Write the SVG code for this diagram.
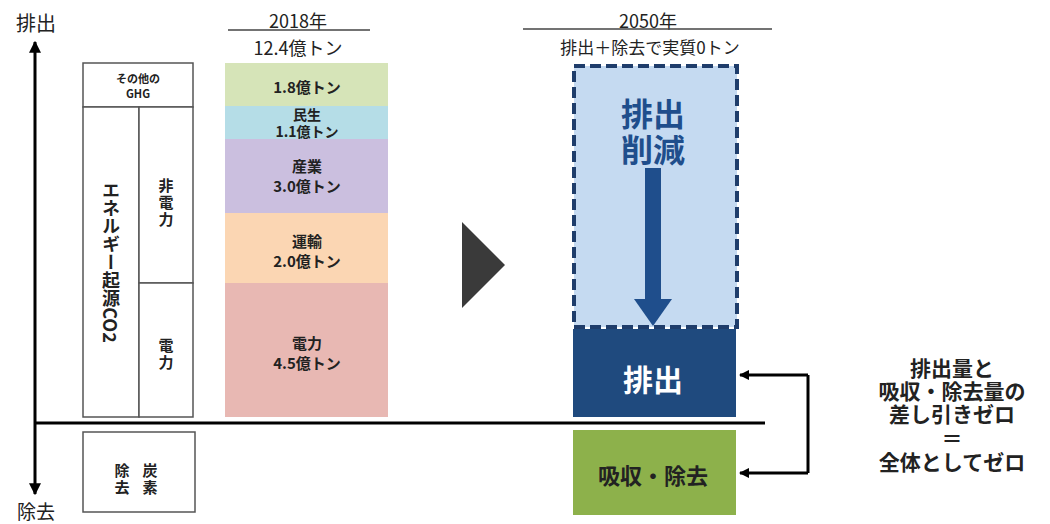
<svg xmlns="http://www.w3.org/2000/svg" width="1050" height="524" viewBox="0 0 1050 524">
<defs>
<style>
text{font-family:"Noto Sans CJK JP","Noto Sans",sans-serif;fill:#222;}
.b{font-weight:bold;}
.c{text-anchor:middle;dominant-baseline:central;}
.box{fill:#fff;stroke:#555;stroke-width:1.5;}
.ax{stroke:#000;stroke-width:3;fill:none;}
.con{stroke:#000;stroke-width:3;fill:none;}
</style>
<marker id="ah" viewBox="0 0 10 10" refX="9" refY="5" markerWidth="4" markerHeight="4" orient="auto-start-reverse">
<path d="M0,0 L10,5 L0,10 z" fill="#000"/>
</marker>
<marker id="ah2" viewBox="0 0 10 10" refX="9" refY="5" markerWidth="3.5" markerHeight="3.5" orient="auto">
<path d="M0,0 L10,5 L0,10 z" fill="#000"/>
</marker>
</defs>
<rect width="1050" height="524" fill="#fff"/>

<g id="axes">
<line class="ax" x1="35" y1="494" x2="35" y2="42" marker-end="url(#ah)" marker-start="url(#ah)"/>
<line class="ax" x1="35" y1="423" x2="765" y2="423"/>
<text x="36" y="22" class="c" font-size="20">排出</text>
<text x="36" y="510" class="c" font-size="19">除去</text>
</g>

<g id="legend-left">
<rect class="box" x="83" y="63" width="110" height="44"/>
<text x="138" y="78" class="c b" font-size="11">その他の</text>
<text x="138" y="93" class="c b" font-size="11">GHG</text>
<rect class="box" x="83" y="107" width="56" height="310"/>
<rect class="box" x="139" y="107" width="54" height="176"/>
<rect class="box" x="139" y="283" width="54" height="134"/>
<text x="111" y="262" class="b" font-size="18" writing-mode="vertical-rl" text-anchor="middle">エネルギー起源CO2</text>
<text x="166" y="184" class="c b" font-size="15">非</text>
<text x="166" y="201" class="c b" font-size="15">電</text>
<text x="166" y="218" class="c b" font-size="15">力</text>
<text x="166" y="344" class="c b" font-size="15">電</text>
<text x="166" y="361" class="c b" font-size="15">力</text>
</g>

<g id="removal-left">
<rect class="box" x="83" y="432" width="112" height="80"/>
<text x="122" y="469" class="c b" font-size="15">除</text>
<text x="122" y="486" class="c b" font-size="15">去</text>
<text x="150" y="469" class="c b" font-size="15">炭</text>
<text x="150" y="486" class="c b" font-size="15">素</text>
</g>

<g id="header-2018">
<text x="298" y="20" class="c" font-size="18">2018年</text>
<line x1="228" y1="30" x2="370" y2="30" stroke="#444" stroke-width="1.5"/>
<text x="298" y="47" class="c" font-size="18">12.4億トン</text>
</g>

<g id="bars-2018">
<rect x="225" y="63" width="163" height="43" fill="#d6e4b8"/>
<rect x="225" y="106" width="163" height="33" fill="#b5dde7"/>
<rect x="225" y="139" width="163" height="74" fill="#cbbfdf"/>
<rect x="225" y="213" width="163" height="70" fill="#fbd6b3"/>
<rect x="225" y="283" width="163" height="134" fill="#e8b8b3"/>
<text x="307" y="86" class="c b" font-size="15">1.8億トン</text>
<text x="307" y="114" class="c b" font-size="14">民生</text>
<text x="307" y="131" class="c b" font-size="14">1.1億トン</text>
<text x="307" y="165" class="c b" font-size="15">産業</text>
<text x="307" y="185" class="c b" font-size="15">3.0億トン</text>
<text x="307" y="240" class="c b" font-size="15">運輸</text>
<text x="307" y="260" class="c b" font-size="15">2.0億トン</text>
<text x="307" y="342" class="c b" font-size="15">電力</text>
<text x="307" y="362" class="c b" font-size="15">4.5億トン</text>
</g>

<g id="transition">
<polygon points="462,222 462,308 505,265" fill="#3a3a3a"/>
</g>

<g id="header-2050">
<text x="648" y="20" class="c" font-size="18">2050年</text>
<line x1="523" y1="29" x2="772" y2="29" stroke="#444" stroke-width="1.5"/>
<text x="650" y="46" class="c" font-size="17">排出＋除去で実質0トン</text>
</g>

<g id="reduction">
<rect x="574" y="66" width="163" height="261" fill="#c5daf1" stroke="#1f3d6b" stroke-width="4" stroke-dasharray="11,5"/>
<text x="653" y="112" class="c b" font-size="32" style="fill:#1f4e8c">排出</text>
<text x="653" y="148" class="c b" font-size="32" style="fill:#1f4e8c">削減</text>
<rect x="645" y="168" width="16" height="132" fill="#1f4e8c"/>
<polygon points="634,299 672,299 653,326" fill="#1f4e8c"/>
</g>

<g id="emission">
<rect x="573" y="329" width="163" height="88" fill="#1f4a7e"/>
<text x="653" y="378" class="c b" font-size="30" style="fill:#fff">排出</text>
</g>

<g id="absorption">
<rect x="573" y="430" width="163" height="85" fill="#8db14b"/>
<text x="653" y="474" class="c b" font-size="22">吸収・除去</text>
</g>

<g id="connectors">
<polyline class="con" points="808,375 808,473"/>
<line class="con" x1="808" y1="375" x2="740" y2="375" marker-end="url(#ah2)"/>
<line class="con" x1="808" y1="473" x2="740" y2="473" marker-end="url(#ah2)"/>
</g>

<g id="note">
<text x="952" y="367" class="c b" font-size="21">排出量と</text>
<text x="952" y="390" class="c b" font-size="21">吸収・除去量の</text>
<text x="952" y="413" class="c b" font-size="21">差し引きゼロ</text>
<text x="952" y="437" class="c b" font-size="21">＝</text>
<text x="952" y="461" class="c b" font-size="21">全体としてゼロ</text>
</g>
</svg>
